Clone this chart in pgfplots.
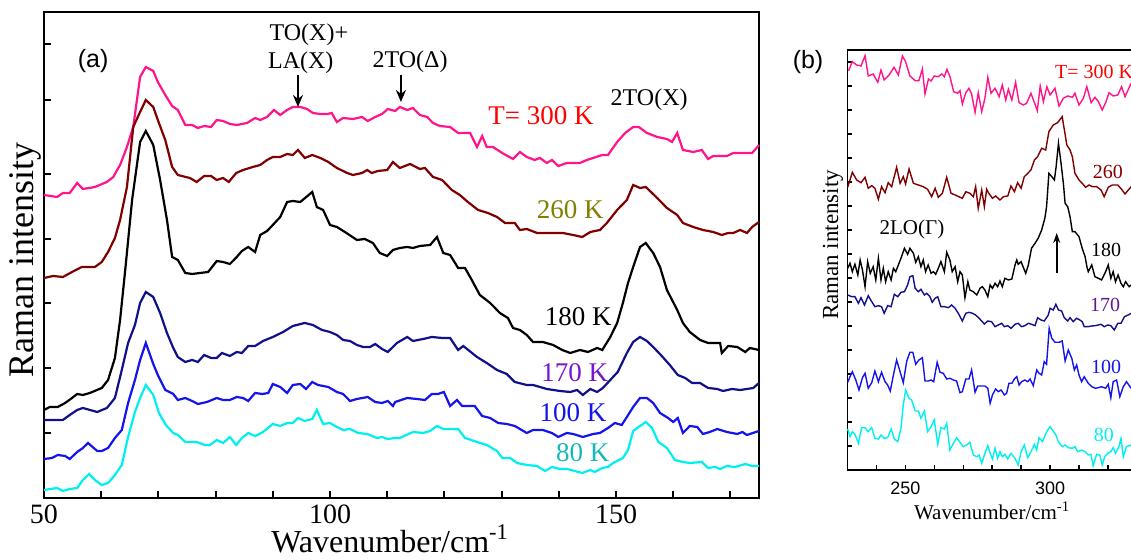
\documentclass[border=0pt]{standalone}
\usepackage{fontspec}
\setmainfont{Liberation Serif}
\setsansfont{Liberation Sans}
\usepackage{pgfplots}
\pgfplotsset{compat=1.18}
\usetikzlibrary{arrows.meta}

\definecolor{c300}{RGB}{255,20,140}
\definecolor{c260}{RGB}{128,0,0}
\definecolor{c170}{RGB}{16,16,140}
\definecolor{c100}{RGB}{20,20,235}
\definecolor{c80}{RGB}{0,240,240}
\definecolor{l260}{RGB}{128,128,0}
\definecolor{l170}{RGB}{120,20,210}
\definecolor{l80}{RGB}{20,185,185}
\definecolor{l170b}{RGB}{100,20,150}

\pgfplotsset{
  panel/.style={
    scale only axis, anchor=south west, clip=false,
    tick align=inside, tick pos=left,
    /pgf/number format/assume math mode=true,
    yticklabels={},
  },
}

\begin{document}
\begin{tikzpicture}

% ---------------- (a) ----------------
\begin{axis}[panel,
    at={(22pt,31pt)}, width=357.5pt, height=243pt,
    xmin=50, xmax=175, ymin=0, ymax=486,
    xtick={50,100,150},
    minor xtick={60,70,80,90,110,120,130,140,160,170},
    ytick={65,130,195,259,324,398,454},
    major tick length=3.5pt, minor tick length=3.5pt,
    axis line style={line width=1pt},
    every tick/.style={black, line width=1pt},
    tick label style={font=\fontsize{14}{16}\selectfont},
    xlabel={Wavenumber/cm\textsuperscript{-1}},
    xlabel style={font=\fontsize{16}{18}\selectfont, at={(ticklabel cs:0.484)}, anchor=north, yshift=4pt, inner ysep=1pt},
    ylabel={Raman intensity},
    ylabel style={font=\fontsize{18}{20}\selectfont, at={(axis description cs:-0.014,0.49)}, anchor=base},
]
% T = 300 K
\addplot[c300, line width=1.1pt] coordinates {
(50.0,303) (52.3,301) (53.3,305) (54.5,305) (55.8,315) (56.8,309) (58.9,311) (61.0,316) (62.1,321) (63.3,333) (64.5,351) (65.6,371) (66.8,421) (67.8,431) (69.1,427) (69.9,416) (71.2,403) (72.4,392) (73.4,388) (74.7,373) (75.9,373) (76.9,370) (78.0,372) (79.2,371) (80.2,378) (81.3,377) (82.5,374) (83.7,373) (85.5,375) (86.9,380) (87.8,378) (89.0,381) (90.2,388) (91.3,383) (92.5,388) (93.5,391) (94.8,391) (96.0,389) (97.0,385) (98.3,384) (99.5,384) (100.3,385) (101.2,376) (102.3,380) (104.0,379) (105.6,381) (106.6,377) (107.9,381) (109.1,384) (110.1,389) (111.4,387) (112.2,391) (113.5,388) (114.5,390) (115.7,383) (117.0,381) (118.0,375) (119.2,372) (121.0,371) (122.4,365) (124.5,365) (125.7,351) (126.6,362) (127.4,351) (128.5,351) (130.1,345) (132.0,339) (133.2,346) (134.4,341) (135.8,338) (136.7,340) (137.9,335) (138.8,338) (139.9,332) (141.4,335) (143.7,335) (144.9,338) (146.0,340) (147.6,343) (148.6,343) (150.2,356) (151.6,365) (153.0,371) (154.0,371) (155.4,365) (157.2,361) (158.9,359) (159.8,356) (160.7,365) (161.7,348) (163.5,346) (165.0,348) (166.1,339) (167.0,342) (169.4,342) (170.5,345) (171.7,345) (173.8,345) (175.0,353)
};
% 260 K
\addplot[c260, line width=1.1pt] coordinates {
(50.0,220) (51.6,222) (53.3,221) (54.9,226) (56.6,231) (58.9,231) (60.1,236) (61.2,246) (62.4,260) (63.3,278) (64.5,311) (65.6,371) (66.8,386) (67.8,398) (69.1,391) (69.9,378) (71.2,358) (72.4,331) (73.4,323) (75.5,320) (76.7,316) (78.0,322) (79.2,322) (80.2,318) (81.3,320) (82.3,316) (83.6,325) (84.8,328) (86.5,331) (87.8,333) (89.0,338) (90.0,341) (91.3,341) (92.5,344) (93.5,343) (94.4,348) (95.6,340) (96.9,343) (98.3,340) (99.7,336) (101.2,330) (103.0,325) (104.0,323) (105.6,325) (106.5,328) (107.3,325) (108.4,327) (110.0,328) (111.0,336) (112.2,330) (114.0,334) (115.7,329) (116.6,330) (118.0,321) (119.6,318) (121.3,308) (122.7,303) (124.1,296) (125.9,288) (127.6,285) (129.2,281) (130.6,275) (132.3,275) (133.2,268) (134.4,269) (136.2,265) (137.2,265) (139.0,265) (140.7,265) (142.5,263) (144.1,261) (145.5,266) (147.2,268) (148.4,275) (150.2,288) (151.9,298) (153.0,313) (154.2,310) (155.2,311) (157.2,300) (158.9,290) (160.7,283) (161.7,275) (163.5,271) (165.2,268) (167.0,266) (168.5,263) (169.6,265) (170.5,265) (171.7,268) (172.9,265) (173.8,271) (175.0,276)
};
% 180 K
\addplot[black, line width=1.1pt] coordinates {
(50.0,88) (51.0,91) (52.4,91) (53.7,95) (54.9,100) (55.8,104) (56.8,103) (58.0,105) (60.1,110) (61.2,118) (62.4,140) (63.3,178) (64.2,228) (65.4,298) (66.8,356) (67.8,367) (69.1,353) (70.3,318) (71.5,278) (72.4,241) (73.4,238) (74.7,225) (75.9,224) (77.3,225) (78.7,226) (80.2,237) (81.3,236) (82.5,234) (83.7,241) (84.6,247) (85.7,251) (86.9,246) (87.8,263) (89.0,267) (90.0,273) (91.3,281) (92.5,296) (93.5,297) (94.8,296) (96.9,306) (97.7,291) (98.8,288) (100.0,273) (101.2,271) (102.6,266) (104.7,258) (106.1,259) (107.5,255) (108.7,245) (110.0,242) (111.0,248) (112.2,250) (113.5,251) (114.5,250) (115.7,252) (117.5,253) (118.7,261) (119.8,245) (121.0,243) (122.4,230) (123.6,230) (124.5,221) (126.2,203) (128.0,195) (129.7,185) (131.1,180) (132.0,170) (133.2,168) (134.4,163) (135.5,156) (137.2,156) (139.0,153) (140.6,148) (142.0,145) (143.7,148) (145.1,146) (146.7,150) (147.6,148) (149.0,161) (150.2,175) (151.2,195) (152.1,215) (153.0,231) (154.2,251) (155.2,255) (156.5,245) (157.7,231) (158.9,208) (160.7,188) (161.7,175) (162.9,166) (164.7,158) (166.1,155) (168.2,155) (168.5,145) (169.6,152) (171.2,151) (172.6,146) (173.4,150) (175.0,148)
};
% 170 K
\addplot[c170, line width=1.1pt] coordinates {
(50.0,78) (53.3,78) (54.5,83) (55.8,88) (56.8,90) (59.3,86) (61.0,90) (62.4,100) (63.6,128) (64.7,155) (65.9,173) (66.8,195) (67.8,206) (69.1,201) (70.3,185) (71.5,165) (72.6,150) (73.4,141) (74.7,136) (75.9,138) (76.9,136) (78.0,143) (79.2,140) (80.2,140) (81.1,145) (82.5,142) (83.7,146) (84.6,145) (85.7,152) (86.9,152) (88.3,157) (90.0,161) (91.8,166) (93.5,172) (95.6,175) (97.0,173) (98.6,168) (100.0,166) (101.2,163) (102.3,158) (103.5,157) (104.7,153) (105.8,151) (107.0,151) (107.9,154) (109.1,149) (110.1,146) (111.7,155) (113.5,161) (114.5,157) (116.3,159) (117.8,161) (119.6,160) (121.0,160) (122.4,148) (123.3,152) (125.7,141) (127.4,135) (129.2,128) (130.9,124) (132.3,116) (134.4,113) (135.5,113) (137.9,109) (140.2,107) (142.0,106) (143.2,108) (144.2,103) (145.5,109) (146.7,106) (147.7,110) (149.0,118) (150.3,126) (151.9,145) (153.0,156) (154.2,161) (155.4,157) (156.5,151) (158.0,142) (159.4,133) (160.8,123) (162.1,120) (163.3,115) (164.7,115) (166.1,110) (167.7,109) (168.7,107) (170.3,109) (171.7,108) (172.9,109) (174.0,110) (175.0,115)
};
% 100 K
\addplot[c100, line width=1.1pt] coordinates {
(50.0,39) (51.4,40) (52.4,43) (53.7,42) (54.5,39) (55.8,46) (56.8,50) (57.7,55) (59.3,47) (60.1,47) (61.2,50) (62.4,60) (63.6,68) (64.7,95) (65.9,118) (66.8,138) (67.8,155) (69.1,134) (69.9,123) (71.2,108) (72.6,104) (73.4,98) (74.7,100) (75.9,97) (76.9,94) (78.5,96) (80.2,100) (81.3,98) (82.5,98) (83.7,101) (84.8,100) (85.7,97) (86.9,105) (88.2,104) (89.2,105) (90.0,114) (91.3,111) (92.5,105) (93.5,113) (94.8,114) (95.8,109) (96.9,116) (97.9,113) (99.7,111) (101.2,106) (102.3,104) (103.5,97) (104.7,99) (106.6,101) (107.9,96) (109.1,95) (110.1,97) (111.0,92) (111.4,96) (113.5,100) (115.2,99) (116.6,98) (117.8,104) (118.9,104) (119.9,106) (121.0,92) (122.2,98) (123.1,92) (125.3,92) (126.6,82) (128.0,80) (129.4,75) (130.9,74) (132.3,72) (134.4,65) (135.5,68) (137.2,68) (138.8,65) (139.9,61) (141.4,65) (142.5,64) (144.2,61) (146.0,64) (147.2,65) (148.6,70) (149.8,75) (151.0,73) (151.9,81) (153.0,91) (154.2,100) (155.4,100) (156.5,95) (157.7,85) (159.1,80) (160.0,76) (160.8,80) (161.7,65) (162.9,72) (164.2,71) (165.2,64) (166.4,66) (167.7,69) (169.4,66) (171.2,64) (172.1,66) (172.9,63) (175.0,67)
};
% 80 K
\addplot[c80, line width=1.1pt] coordinates {
(50.0,8) (52.3,10) (53.3,7) (54.5,9) (55.8,10) (56.8,18) (57.9,24) (58.9,18) (60.1,13) (61.2,15) (62.4,23) (63.6,33) (64.7,61) (65.9,86) (66.8,100) (67.8,113) (69.1,103) (70.1,85) (71.3,73) (72.6,65) (73.4,63) (74.7,56) (76.7,56) (78.1,53) (79.0,53) (80.2,58) (81.3,55) (82.5,61) (83.6,53) (84.6,60) (85.7,65) (86.9,62) (88.3,66) (90.0,74) (91.3,72) (92.5,75) (93.5,75) (94.4,80) (95.6,77) (96.9,79) (97.7,88) (98.8,74) (100.0,75) (101.2,71) (102.3,68) (103.5,69) (104.9,65) (106.5,64) (108.2,60) (109.1,61) (110.1,59) (111.4,60) (112.2,60) (114.5,66) (116.3,65) (117.5,67) (118.7,72) (119.8,69) (121.0,69) (122.4,69) (123.6,60) (125.7,56) (127.4,53) (129.2,47) (130.1,40) (131.5,40) (132.7,35) (134.4,33) (136.2,32) (137.6,27) (138.8,31) (140.2,29) (141.4,29) (142.8,27) (144.1,25) (145.5,28) (146.3,26) (147.6,30) (148.6,31) (149.5,35) (151.2,40) (152.1,48) (153.0,67) (154.2,72) (155.2,76) (156.3,70) (157.4,56) (158.9,50) (160.3,38) (161.7,36) (162.9,35) (165.0,36) (166.1,30) (167.3,31) (168.2,29) (169.4,32) (170.8,31) (172.6,34) (173.8,32) (175.0,32)
};

\node[font=\sffamily\fontsize{12.5}{14}\selectfont] at (axis cs:58.6,437) {(a)};
\node[font=\fontsize{12}{14}\selectfont] at (axis cs:96.3,463) {TO(X)+};
\node[font=\fontsize{12}{14}\selectfont] at (axis cs:94.9,435) {LA(X)};
\node[font=\fontsize{12}{14}\selectfont] at (axis cs:114.0,436) {2TO(Δ)};
\node[font=\fontsize{12}{14}\selectfont] at (axis cs:155.8,398) {2TO(X)};
\draw[-{Stealth[length=6pt,width=5pt]}, line width=1.2pt] (axis cs:94.4,423) -- (axis cs:94.4,391);
\draw[-{Stealth[length=6pt,width=5pt]}, line width=1.2pt] (axis cs:112.4,423) -- (axis cs:112.4,396);

\node[red, font=\fontsize{13.5}{15}\selectfont] at (axis cs:136.9,382) {T= 300 K};
\node[l260, font=\fontsize{13.5}{15}\selectfont] at (axis cs:142.0,288) {260 K};
\node[black, font=\fontsize{13.5}{15}\selectfont] at (axis cs:143.4,181) {180 K};
\node[l170, font=\fontsize{13.5}{15}\selectfont] at (axis cs:142.8,125) {170 K};
\node[c100, font=\fontsize{13.5}{15}\selectfont] at (axis cs:142.5,85) {100 K};
\node[l80, font=\fontsize{13.5}{15}\selectfont] at (axis cs:144.2,45) {80 K};
\end{axis}

% ---------------- (b) ----------------
\begin{axis}[panel,
    at={(423.7pt,45pt)}, width=144.75pt, height=210pt,
    xmin=230, xmax=330, ymin=0, ymax=420,
    xtick={250,300},
    minor xtick={240,260,270,280,290,310,320},
    ytick={24,48,...,408},
    major tick length=2.5pt, minor tick length=2.5pt,
    axis line style={line width=0.75pt},
    every tick/.style={black, line width=0.7pt},
    tick label style={font=\sffamily\fontsize{9}{10}\selectfont},
    xticklabel style={yshift=-2.5pt},
    xlabel={Wavenumber/cm\textsuperscript{-1}},
    xlabel style={font=\fontsize{10.5}{12}\selectfont, yshift=3.5pt},
    ylabel={Raman intensity},
    ylabel style={font=\fontsize{11.5}{13}\selectfont, at={(axis description cs:-0.032,0.536)}, anchor=base},
]
\addplot[c300, line width=0.7pt] coordinates {
(230.4,399.3) (231.7,408.3) (233.2,405) (234.7,404) (236.1,414.3) (237.2,394) (238.9,396) (240.5,387.7) (241.6,400) (242.7,390) (244.4,395) (246.1,402.7) (247.6,395) (249.0,414) (250.1,408.3) (251.6,394) (253.4,389.3) (254.7,389.3) (255.9,401) (256.8,376) (258.0,391) (258.9,389) (260.0,394) (261.4,393.3) (262.6,396) (263.5,393.3) (264.4,400.7) (265.5,392.7) (266.7,378.3) (268.1,376.7) (268.9,379.3) (269.7,366) (270.9,377.3) (272.0,381.7) (272.9,376) (274.1,357.7) (275.2,377.3) (276.4,358.3) (277.5,371.7) (278.5,392.7) (279.6,376.7) (281.0,381.7) (282.4,373.3) (283.5,385) (284.7,370) (285.6,380.7) (286.8,370) (288.1,387.7) (289.3,367.3) (290.8,365) (291.9,366.7) (293.4,376.7) (294.6,367.3) (295.6,359.3) (296.6,384) (297.7,368.3) (298.9,383.3) (300.0,375) (301.7,381.7) (303.1,364) (304.6,371.7) (306.1,374) (307.7,372.7) (308.6,376.7) (310.0,365) (311.5,371.7) (312.7,383.3) (314.2,367.3) (315.5,372.7) (316.7,368.3) (318.0,360) (319.2,367.3) (320.4,377.3) (321.8,374) (323.4,375) (324.7,383.3) (325.9,373.3) (328.0,386.7)
};
\addplot[c260, line width=0.7pt] coordinates {
(230.1,282.7) (231.7,297.7) (233.2,290) (234.7,287.3) (236.1,292.7) (237.2,281.7) (238.4,284.3) (239.5,281.7) (240.7,270.7) (241.8,283.3) (243.0,277.3) (244.1,287.3) (245.3,283.3) (247.0,302.7) (248.2,286.7) (249.3,293.3) (250.1,286) (251.3,301) (252.8,286.7) (254.5,285) (256.2,283.3) (257.7,280.7) (259.1,273.3) (260.3,281.7) (261.4,272.7) (262.8,276.7) (264.3,292.7) (265.8,276.7) (267.2,275) (268.5,273.3) (269.7,271.7) (270.9,278.3) (272.3,276.7) (273.5,273.3) (274.3,283.3) (275.2,261.7) (276.4,280) (277.3,263.3) (278.1,280.7) (278.7,277.3) (280.1,271.7) (281.2,274) (282.7,270) (283.9,273.3) (285.4,274) (286.5,284) (287.7,278.3) (288.8,287.3) (290.0,281.7) (291.1,293.3) (292.3,296.7) (293.4,300) (294.6,310) (295.7,313.3) (297.1,321.7) (298.5,320) (299.6,338.3) (301.1,345) (302.6,347.3) (304.2,353.3) (305.8,325) (306.9,320) (307.7,313.3) (308.6,296.7) (310.0,290) (311.1,286.7) (312.3,282.7) (313.5,285) (314.6,283.3) (316.1,283.3) (317.6,280) (318.7,273.3) (320.1,282.7) (321.5,285) (323.4,285) (324.9,280) (325.9,276) (328.0,283.3)
};
\addplot[black, line width=0.7pt] coordinates {
(230.1,201.7) (230.9,206.7) (231.7,198.3) (232.6,205.7) (233.6,195) (234.4,210) (235.2,200) (236.1,183.3) (237.0,208.3) (237.9,196.7) (238.9,203.3) (239.8,190) (240.7,211.7) (241.6,190) (242.4,201.7) (243.2,188.3) (244.1,198.3) (245.1,190) (245.9,201.7) (246.7,198.3) (247.6,205) (248.5,211.7) (249.7,221.7) (250.8,215.7) (251.6,221.7) (252.8,216.7) (253.6,207.7) (254.5,213.3) (255.4,203.3) (256.2,210) (257.0,198.3) (257.9,205) (258.9,196.7) (259.7,198.3) (260.5,195.7) (261.4,201.7) (262.3,208.3) (263.5,198.3) (264.3,217.7) (265.4,210) (266.2,198.3) (267.2,203.3) (268.1,188.3) (268.9,198.3) (269.7,195) (270.6,172.3) (271.6,188.3) (272.3,180) (273.5,178.3) (274.7,175) (275.8,181.7) (276.6,183.3) (277.5,180) (278.5,173.3) (279.3,185) (280.1,181.7) (281.0,186.7) (281.9,183.3) (282.7,189) (283.5,183.3) (284.4,191.7) (285.6,190) (286.8,191) (287.9,205) (288.5,210) (289.0,205.7) (290.0,208.3) (290.8,202.3) (291.6,196.7) (292.5,205) (293.6,221.7) (294.8,226.7) (295.9,231.7) (297.1,240) (298.2,251.7) (298.8,263.3) (299.6,296.7) (300.6,293.3) (301.5,290) (302.1,303.3) (302.9,326.7) (303.8,306.7) (304.6,286.7) (305.2,266.7) (306.1,263.3) (306.9,253.3) (307.7,238.3) (308.6,238.3) (310.0,233.3) (311.1,221.7) (312.1,213.3) (312.8,202.3) (313.2,198.3) (314.4,205) (315.5,193.3) (316.7,191.7) (317.8,190) (319.2,198.3) (320.1,205) (321.0,191.7) (321.8,198.3) (322.6,188.3) (323.5,195) (324.5,186.7) (325.3,183.3) (326.1,188.3) (327.3,183.3) (328.0,185)
};
\addplot[c170, line width=0.7pt] coordinates {
(230.1,175) (231.5,173.3) (232.6,173.3) (233.8,166.7) (234.7,172.3) (235.9,165) (237.2,174.3) (238.4,168.3) (239.5,163.3) (240.7,164.3) (241.8,163.3) (242.7,156.7) (243.9,164.3) (245.1,163.3) (246.2,175.7) (247.4,173.3) (248.5,177.7) (249.7,178.3) (250.8,185) (251.6,193.3) (252.6,194.3) (253.4,181.7) (254.5,178.3) (255.4,180.7) (256.6,175) (257.4,176.7) (258.5,173.3) (259.3,167.7) (260.3,171.7) (261.2,173.3) (262.3,163.3) (263.5,163.3) (264.9,162.3) (266.0,165) (267.2,161.7) (268.3,156.7) (269.7,149) (270.9,156.7) (272.0,157.7) (273.2,156.7) (274.3,155) (275.5,151.7) (276.6,148.3) (277.3,146) (278.5,149) (279.8,148.3) (281.0,143.3) (282.1,145) (283.3,146.7) (284.2,143.3) (285.4,144.3) (286.5,141.7) (287.9,145.7) (289.0,146.7) (290.2,143.3) (291.3,144.3) (292.5,146.7) (293.6,145.7) (294.8,144.3) (295.7,152.3) (296.9,150) (298.0,149) (299.4,155) (300.0,161.7) (301.1,160) (302.0,165.7) (302.9,160) (304.0,159) (304.9,152.3) (306.1,149) (306.9,152.3) (308.0,148.3) (309.2,151.7) (310.3,150) (311.1,148.3) (311.8,143.3) (313.0,143.3) (314.4,144) (315.5,144.3) (316.7,145) (317.6,145.7) (318.7,143.3) (319.9,145) (321.0,144.3) (322.2,140) (323.4,146.7) (324.5,146.7) (325.7,153.3) (327.0,155) (328.0,156.7)
};
\addplot[c100, line width=0.7pt] coordinates {
(230.1,87.7) (230.9,93.3) (231.7,98.3) (232.9,90) (234.0,80) (235.2,92.3) (236.1,96.7) (237.2,81.7) (238.4,87.3) (239.5,99) (240.7,88.3) (241.8,97.7) (243.0,88.3) (243.9,85) (244.8,79) (245.9,95) (247.0,110) (248.2,98.3) (249.3,87.3) (250.5,109) (251.6,117.7) (252.6,117.7) (253.6,105.7) (254.7,110) (255.9,112.3) (256.8,89) (258.0,89) (258.9,90) (259.8,88.3) (261.0,107.7) (262.0,97.7) (263.1,96.7) (264.3,91) (265.4,91.7) (266.6,90) (267.7,89) (268.9,77.3) (269.7,78.3) (270.9,91) (272.0,91) (272.9,100) (274.1,77.7) (275.0,84) (276.4,84) (277.5,84) (278.5,81.7) (279.3,66.7) (280.1,75) (281.2,81) (282.1,78.3) (283.1,80) (284.2,75) (285.0,76.7) (285.8,86.7) (286.8,86.7) (287.7,91) (288.5,93.3) (289.3,85) (290.2,88.3) (291.3,90) (292.3,88.3) (293.1,91) (294.2,84.3) (295.4,100) (296.2,96.7) (297.1,95) (298.0,108.3) (298.8,105.7) (299.7,141.7) (300.6,131.7) (301.7,127.7) (303.1,127.7) (304.2,129) (305.2,109) (306.3,120) (307.5,111.7) (308.4,100) (309.2,105) (310.0,95) (310.9,88.3) (311.8,93.3) (313.2,86.7) (314.4,83.3) (315.7,81.7) (316.7,82.3) (317.8,83.3) (319.2,81.7) (320.1,85.7) (321.0,72.3) (321.8,88.3) (323.0,90) (324.1,73.3) (325.3,83.3) (326.4,88.3) (328.0,81.7)
};
\addplot[c80, line width=0.7pt] coordinates {
(230.1,41) (230.9,33.3) (231.7,38.3) (232.6,35.7) (233.8,26.7) (234.9,42.3) (236.1,42.3) (237.2,38.3) (238.4,42.3) (239.5,31.7) (240.7,31) (241.6,35) (242.7,31.7) (243.9,32.3) (245.1,41) (246.2,31) (247.4,28.3) (248.5,41.7) (249.3,65) (250.1,80) (251.3,71.7) (252.2,70) (253.4,59) (254.5,59) (255.4,51.7) (256.6,59) (257.7,38.3) (258.9,43.3) (260.0,50) (261.2,25.7) (262.3,42.3) (263.5,41) (264.3,46.7) (265.4,20) (266.6,26.7) (267.7,32.3) (268.9,27.7) (270.0,23.3) (271.2,25) (272.3,27.7) (273.5,15) (274.7,13.3) (275.5,15) (276.4,6.7) (277.5,16.7) (278.5,24.3) (279.3,16.7) (280.1,11) (281.0,21.7) (281.9,11.7) (282.7,18.3) (283.5,13.3) (284.4,15.7) (285.4,11) (286.5,16.7) (287.9,11.7) (289.0,5) (290.0,18.3) (291.1,25) (292.3,12.3) (293.4,18.3) (294.6,25.7) (295.4,20) (296.2,32.3) (297.4,28.3) (298.3,35) (299.2,40) (300.0,43.3) (301.1,39) (302.0,35) (302.9,28.3) (304.2,23.3) (305.2,25) (306.3,22.3) (307.7,21.7) (308.6,23.3) (309.5,18.3) (310.9,20) (312.1,18.3) (313.2,15) (314.1,15.7) (314.9,4.3) (316.1,15.7) (317.2,15) (318.0,5) (318.9,13.3) (319.9,16.7) (321.0,18.3) (321.8,22.3) (322.6,16.7) (323.8,23.3) (324.5,31.7) (325.3,13.3) (326.4,23.3) (328.0,25)
};

\node[font=\sffamily\fontsize{12.5}{14}\selectfont] at (axis cs:216.4,408) {(b)};
\node[red, anchor=base west, inner sep=0pt, font=\fontsize{10}{12}\selectfont] at (axis cs:301.6,391) {T= 300 K};
\node[c260, font=\fontsize{10}{12}\selectfont] at (axis cs:320.0,298) {260};
\node[black, font=\fontsize{10}{12}\selectfont] at (axis cs:319.4,220) {180};
\node[l170b, font=\fontsize{10}{12}\selectfont] at (axis cs:319.0,165) {170};
\node[c100, font=\fontsize{10}{12}\selectfont] at (axis cs:319.4,103) {100};
\node[c80, font=\fontsize{10}{12}\selectfont] at (axis cs:318.6,35) {80};
\node[font=\fontsize{10.5}{12}\selectfont] at (axis cs:252.3,241) {2LO(Γ)};
\draw[-{Stealth[length=5pt,width=3.5pt]}, line width=0.9pt] (axis cs:302.3,197) -- (axis cs:302.3,237);
\end{axis}

\pgfresetboundingbox
\path[use as bounding box] (0,0) rectangle (565.5pt,280pt);
\end{tikzpicture}
\end{document}
